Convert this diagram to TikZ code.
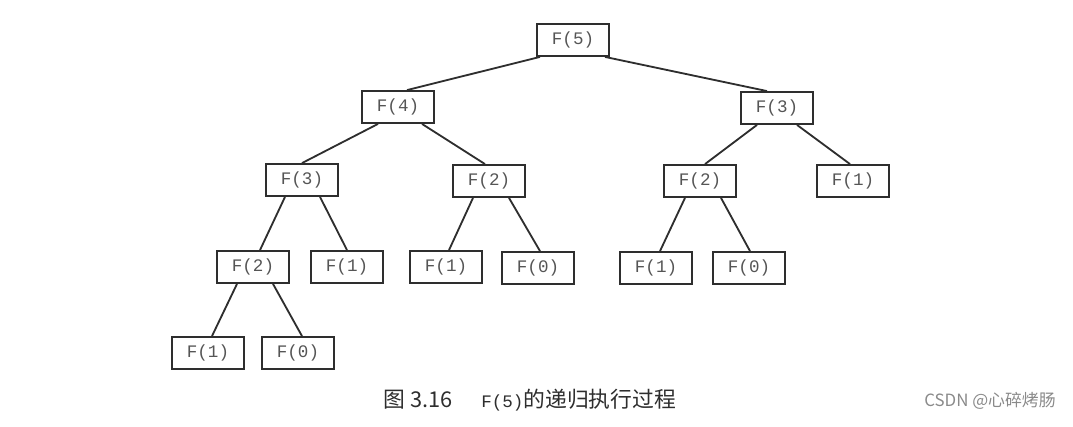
\documentclass[tikz,border=0pt]{standalone}
\usepackage{fontspec}
\setmonofont{Liberation Mono}
\newfontfamily\cjk{Noto Sans CJK SC}
\usetikzlibrary{calc}
\definecolor{boxGray}{HTML}{2E2E2E}
\definecolor{labelGray}{HTML}{555555}
\definecolor{markGray}{HTML}{8A8A8A}

\begin{document}
\begin{tikzpicture}[
        x=0.025cm, y=-0.025cm,
        fbox/.style={draw=boxGray, line width=1.3pt, minimum width=1.8cm,
                     minimum height=0.8cm, inner sep=0pt, text=labelGray,
                     font=\ttfamily\fontsize{12.5}{14}\selectfont},
        link/.style={draw=boxGray, line width=1.3pt}
      ]
      \useasboundingbox (0,0) rectangle (1073,427);
      % level 0 and 1
      \node[fbox] (f5)  at (573,40)  {F(5)};
      \node[fbox] (f4)  at (398,107) {F(4)};
      \node[fbox] (f3r) at (777,108) {F(3)};
      % level 2
      \node[fbox] (f3l) at (302,180) {F(3)};
      \node[fbox] (f2m) at (489,181) {F(2)};
      \node[fbox] (f2r) at (700,181) {F(2)};
      \node[fbox] (f1r) at (853,181) {F(1)};
      % level 3
      \node[fbox] (f2l) at (253,267) {F(2)};
      \node[fbox] (f1a) at (347,267) {F(1)};
      \node[fbox] (f1b) at (446,267) {F(1)};
      \node[fbox] (f0b) at (538,268) {F(0)};
      \node[fbox] (f1c) at (656,268) {F(1)};
      \node[fbox] (f0c) at (749,268) {F(0)};
      % level 4
      \node[fbox] (f1d) at (208,353) {F(1)};
      \node[fbox] (f0d) at (298,353) {F(0)};

      \draw[link] ($(f5.south)+(-33,0)$)  -- ($(f4.north)+(9,0)$);
      \draw[link] ($(f5.south)+(32,0)$)   -- ($(f3r.north)+(-10,0)$);
      \draw[link] ($(f4.south)+(-20,0)$)  -- ($(f3l.north)+(0,0)$);
      \draw[link] ($(f4.south)+(24,0)$)   -- ($(f2m.north)+(-4,0)$);
      \draw[link] ($(f3r.south)+(-20,0)$) -- ($(f2r.north)+(5,0)$);
      \draw[link] ($(f3r.south)+(20,0)$)  -- ($(f1r.north)+(-3,0)$);
      \draw[link] ($(f3l.south)+(-17,0)$) -- ($(f2l.north)+(7,0)$);
      \draw[link] ($(f3l.south)+(18,0)$)  -- ($(f1a.north)+(0,0)$);
      \draw[link] ($(f2m.south)+(-16,0)$) -- ($(f1b.north)+(3,0)$);
      \draw[link] ($(f2m.south)+(20,0)$)  -- ($(f0b.north)+(2,0)$);
      \draw[link] ($(f2r.south)+(-15,0)$) -- ($(f1c.north)+(4,0)$);
      \draw[link] ($(f2r.south)+(21,0)$)  -- ($(f0c.north)+(1,0)$);
      \draw[link] ($(f2l.south)+(-16,0)$) -- ($(f1d.north)+(4,0)$);
      \draw[link] ($(f2l.south)+(20,0)$)  -- ($(f0d.north)+(4,0)$);

      % caption and mark
      \node[font=\cjk\fontsize{15.5}{17}\selectfont, text=boxGray] (caption) at (530,400)
        {图 3.16\hspace{1.3em}{\ttfamily\fontsize{12.5}{14}\selectfont F(5)}的递归执行过程};
      \node[font=\cjk\fontsize{12}{14}\selectfont, text=markGray] (mark) at (990,401)
        {CSDN @心碎烤肠};
    \end{tikzpicture}
\end{document}
